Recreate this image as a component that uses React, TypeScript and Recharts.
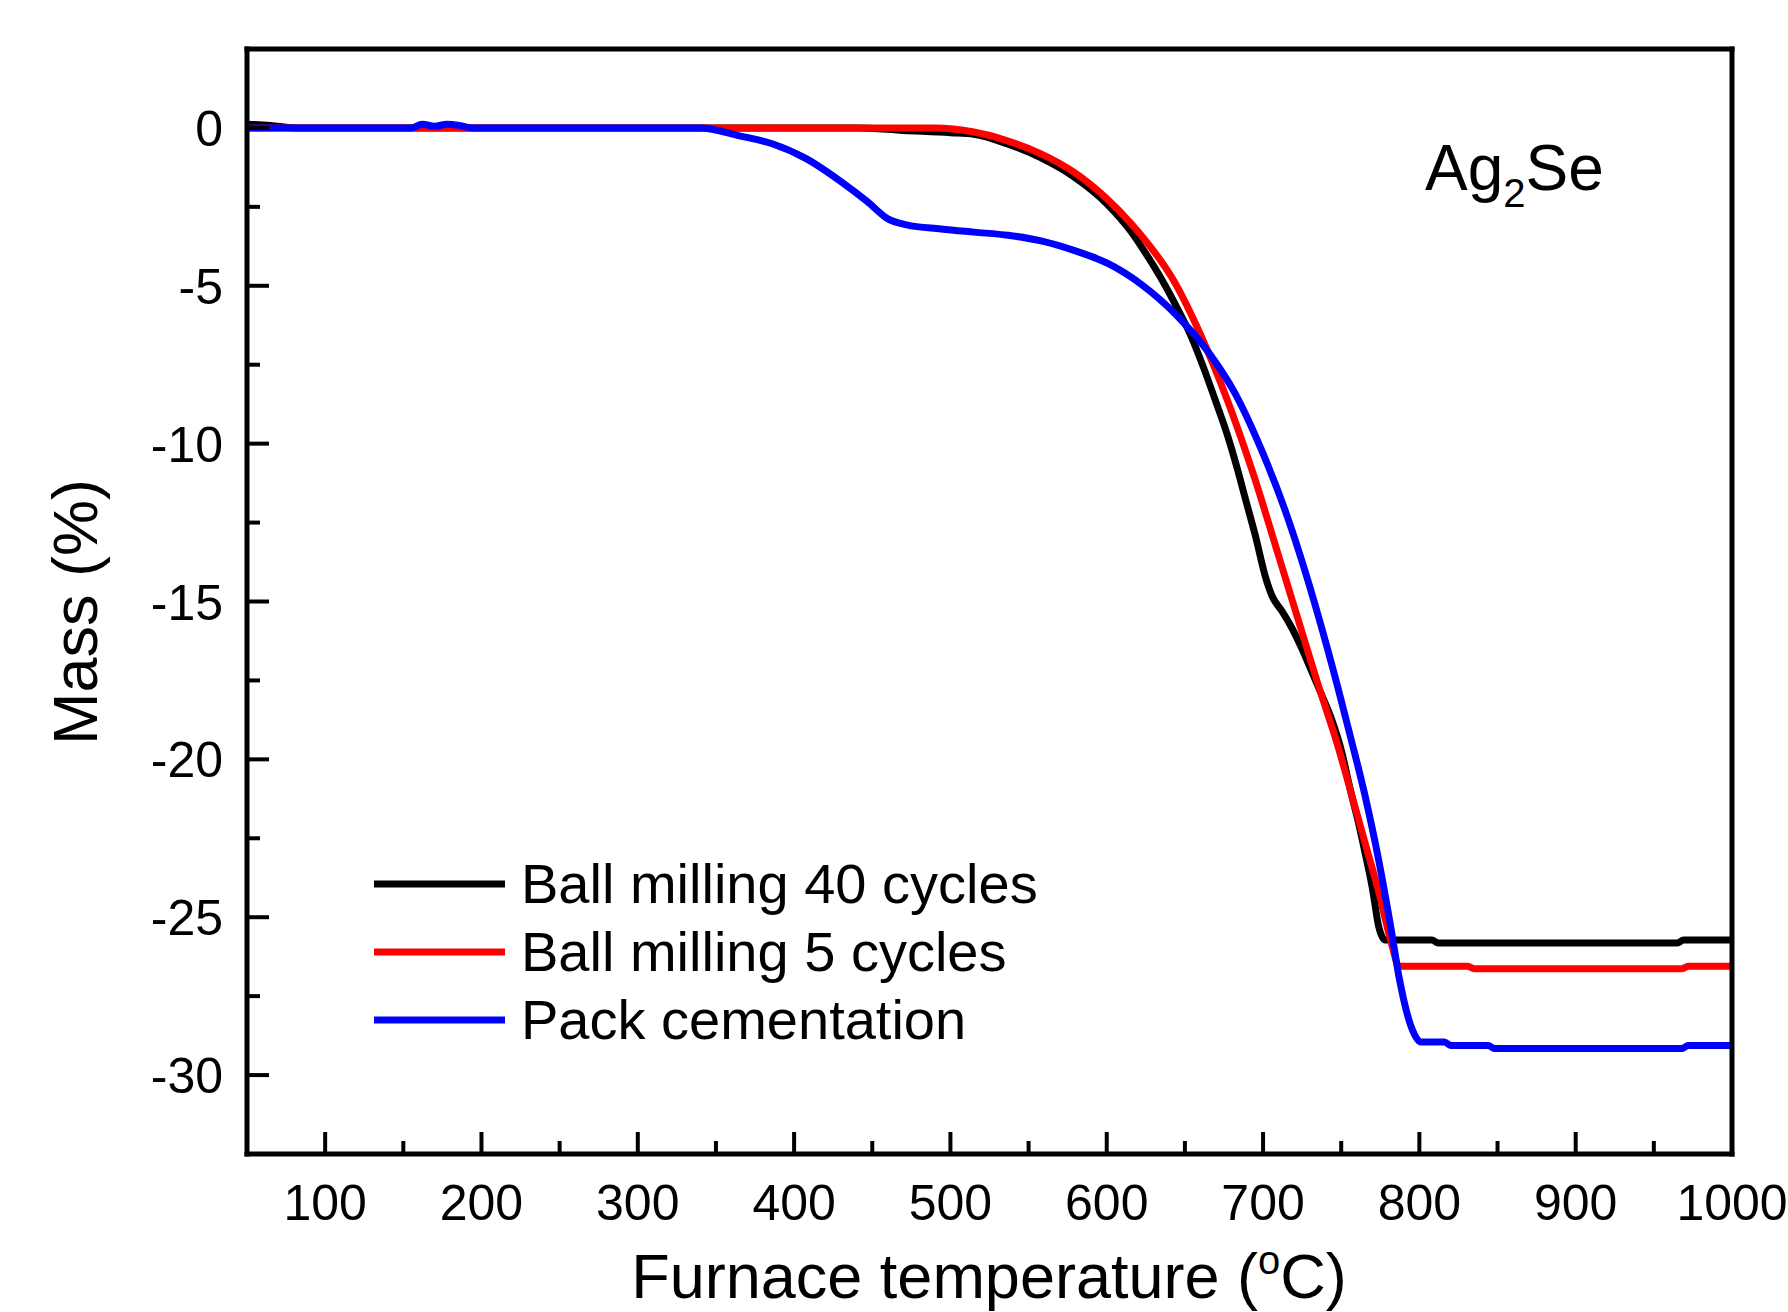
import { LineChart, Line, XAxis, YAxis, Legend } from 'recharts';

const FONT = '"Liberation Sans", Arial, Helvetica, sans-serif';

// Ball milling, 40 cycles: furnace temperature (°C) and mass change (%)
const ball40Temp = [50, 65, 80, 440, 470, 500, 515, 536, 558, 579, 600, 615, 622, 634, 645, 654, 662, 670, 677, 683, 689, 695, 702, 706, 712, 718, 724, 731, 737, 744, 750, 756, 761, 765, 770, 774, 778, 808, 812, 965, 969, 1000];
const ball40Mass = [0.12, 0.08, 0, 0, -0.08, -0.15, -0.2, -0.5, -0.95, -1.55, -2.4, -3.25, -3.75, -4.7, -5.7, -6.6, -7.6, -8.7, -9.7, -10.7, -11.8, -12.9, -14.3, -14.85, -15.3, -15.8, -16.4, -17.2, -17.9, -18.75, -19.7, -21.0, -22.0, -22.9, -24.1, -25.3, -25.72, -25.72, -25.82, -25.82, -25.72, -25.72];

// Ball milling, 5 cycles
const ball5Temp = [50, 340, 490, 515, 536, 558, 579, 600, 615, 622, 643, 660, 677, 694, 709, 722, 735, 748, 756, 765, 774, 782, 787, 831, 835, 968, 972, 1000];
const ball5Mass = [0, 0, 0, -0.13, -0.4, -0.82, -1.4, -2.24, -3.0, -3.4, -4.85, -6.55, -8.6, -11.0, -13.4, -15.5, -17.6, -19.6, -21.0, -22.6, -24.2, -25.8, -26.55, -26.55, -26.63, -26.63, -26.55, -26.55];

// Pack cementation
const packTemp = [50, 155, 162, 170, 178, 186, 194, 340, 365, 386, 408, 430, 447, 460, 472, 494, 515, 537, 558, 579, 601, 622, 645, 665, 682, 699, 714, 726, 735, 748, 756, 765, 774, 782, 787, 795, 801, 816, 820, 844, 848, 968, 972, 1000];
const packMass = [0, 0, 0.12, 0.05, 0.12, 0.08, 0, 0, -0.25, -0.5, -0.98, -1.7, -2.34, -2.88, -3.07, -3.2, -3.3, -3.4, -3.58, -3.88, -4.3, -4.95, -5.95, -7.1, -8.4, -10.2, -12.1, -13.9, -15.4, -17.75, -19.3, -21.1, -23.2, -25.4, -26.9, -28.5, -28.95, -28.95, -29.06, -29.06, -29.16, -29.16, -29.06, -29.06];

const xMajorTicks = [100, 200, 300, 400, 500, 600, 700, 800, 900, 1000];
const xMinorTicks = [150, 250, 350, 450, 550, 650, 750, 850, 950];
const yMajorTicks = [0, -5, -10, -15, -20, -25, -30];
const yMinorTicks = [-2.5, -7.5, -12.5, -17.5, -22.5, -27.5];

const toPoints = (temp: number[], mass: number[]) => temp.map((t, i) => ({ t, m: mass[i] }));

const series = [
  { name: 'Ball milling 40 cycles', color: '#000000', data: toPoints(ball40Temp, ball40Mass) },
  { name: 'Ball milling 5 cycles', color: '#ff0000', data: toPoints(ball5Temp, ball5Mass) },
  { name: 'Pack cementation', color: '#0000ff', data: toPoints(packTemp, packMass) },
];

const FRAME = { stroke: '#000', strokeWidth: 5, strokeLinecap: 'square' as const };

// inward-pointing ticks, labels only on the major ones
function XTick(props: any) {
  const { x, y, payload } = props;
  const major = payload.value % 100 === 0;
  return (
    <g>
      <line x1={x} x2={x} y1={y} y2={y - (major ? 22 : 13)} stroke="#000" strokeWidth={4} />
      {major && (
        <text x={x} y={y + 66} textAnchor="middle" fontSize={50} fontFamily={FONT} fill="#000">
          {payload.value}
        </text>
      )}
    </g>
  );
}

function YTick(props: any) {
  const { x, y, payload } = props;
  const major = payload.value % 5 === 0;
  return (
    <g>
      <line x1={x} x2={x + (major ? 22 : 13)} y1={y} y2={y} stroke="#000" strokeWidth={4} />
      {major && (
        <text x={x - 24} y={y} dy="0.36em" textAnchor="end" fontSize={50} fontFamily={FONT} fill="#000">
          {payload.value}
        </text>
      )}
    </g>
  );
}

function renderLegend(props: any) {
  const items = props.payload || [];
  return (
    <div style={{ fontFamily: FONT, fontSize: 56, color: '#000' }}>
      {items.map((item: any) => (
        <div key={item.value} style={{ display: 'flex', alignItems: 'center', height: 68, whiteSpace: 'nowrap' }}>
          <svg width={131} height={10} style={{ display: 'block' }}>
            <line x1={0} x2={131} y1={5} y2={5} stroke={item.color} strokeWidth={7} />
          </svg>
          <span style={{ marginLeft: 16, lineHeight: '68px' }}>{item.value}</span>
        </div>
      ))}
    </div>
  );
}

export default function App() {
  return (
    <div style={{ position: 'absolute', left: 0, top: 0, width: 1788, height: 1312, background: '#fff' }}>
      <LineChart width={1788} height={1312} margin={{ top: 48, right: 55, bottom: 157, left: 246 }}>
        <XAxis
          type="number"
          dataKey="t"
          domain={[50, 1000]}
          ticks={[...xMajorTicks, ...xMinorTicks].sort((a, b) => a - b)}
          interval={0}
          height={1}
          tickSize={0}
          tickMargin={0}
          tickLine={false}
          axisLine={FRAME}
          tick={XTick}
          allowDataOverflow
          label={() => (
            <text x={989} y={1298} textAnchor="middle" fontSize={63} fontFamily={FONT} fill="#000">
              Furnace temperature (
              <tspan fontSize={40} dy={-24}>o</tspan>
              <tspan dy={24}>C)</tspan>
            </text>
          )}
        />
        <XAxis
          xAxisId="top"
          orientation="top"
          type="number"
          domain={[50, 1000]}
          height={1}
          tick={false}
          tickLine={false}
          axisLine={FRAME}
          label={() => (
            <text x={1425} y={190} fontSize={64} fontFamily={FONT} fill="#000">
              Ag
              <tspan fontSize={40} dy={17}>2</tspan>
              <tspan dy={-17}>Se</tspan>
            </text>
          )}
        />
        <YAxis
          type="number"
          domain={[-32.5, 2.5]}
          ticks={[...yMajorTicks, ...yMinorTicks].sort((a, b) => b - a)}
          interval={0}
          width={1}
          tickSize={0}
          tickMargin={0}
          tickLine={false}
          axisLine={FRAME}
          tick={YTick}
          allowDataOverflow
          label={() => (
            <text
              x={97}
              y={612}
              textAnchor="middle"
              fontSize={63}
              fontFamily={FONT}
              fill="#000"
              transform="rotate(-90 97 612)"
            >
              Mass (%)
            </text>
          )}
        />
        <YAxis
          yAxisId="right"
          orientation="right"
          type="number"
          domain={[-32.5, 2.5]}
          width={1}
          tick={false}
          tickLine={false}
          axisLine={FRAME}
        />
        <Legend
          layout="vertical"
          align="center"
          verticalAlign="middle"
          content={renderLegend}
          wrapperStyle={{ left: 374, top: 850, width: 'auto', height: 'auto' }}
        />
        {series.map((s) => (
          <Line
            key={s.name}
            name={s.name}
            data={s.data}
            dataKey="m"
            type="monotone"
            stroke={s.color}
            strokeWidth={7}
            dot={false}
            activeDot={false}
            legendType="line"
            isAnimationActive={false}
          />
        ))}
      </LineChart>
    </div>
  );
}
